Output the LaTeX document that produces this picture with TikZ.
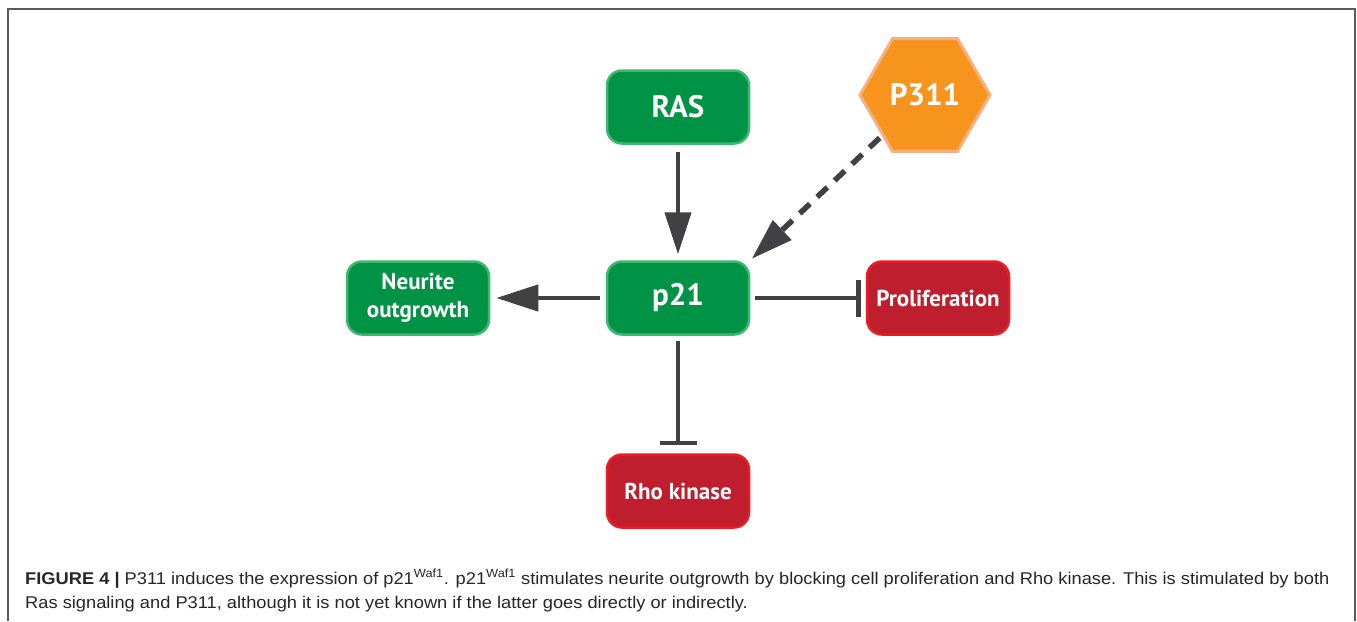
\documentclass[tikz,border=0pt]{standalone}
\usepackage{fontspec}
\setmainfont{Liberation Sans}[FakeStretch=1.075]
\newfontfamily\boxfont{PT Sans}
\usepackage{xcolor}
\usetikzlibrary{shapes,shapes.geometric,arrows,arrows.meta}
\definecolor{boxgreen}{RGB}{0,146,69}
\definecolor{edgegreen}{RGB}{62,184,112}
\definecolor{boxred}{RGB}{190,30,45}
\definecolor{edgered}{RGB}{237,28,36}
\definecolor{hexorange}{RGB}{247,148,29}
\definecolor{hexglow}{RGB}{246,176,128}
\definecolor{linkgray}{RGB}{65,64,66}
\definecolor{framegray}{RGB}{90,90,90}
\tikzset{
    greenbox/.style={draw=edgegreen, fill=boxgreen, line width=2.5pt, rounded corners=15pt, minimum width=142pt, minimum height=73pt, inner sep=0pt, text=white, align=center, font=\boxfont\bfseries\fontsize{23}{28}\selectfont},
    redbox/.style={greenbox, draw=edgered, fill=boxred},
    bigtext/.style={font=\boxfont\bfseries\fontsize{31}{33}\selectfont},
    hexa/.style={regular polygon, regular polygon sides=6, minimum size=130pt, inner sep=0pt, fill=hexorange, draw=hexglow, line width=3pt, text=white, bigtext},
    link/.style={draw=linkgray, line width=4.5pt},
    pointy/.tip={Triangle[length=42pt,width=26pt]},
    blunt/.tip={Bar[width=37pt]},
    caption/.style={anchor=base west, text=black!85, font=\fontsize{17}{20}\selectfont, inner sep=0pt}}
\begin{document}
\begin{tikzpicture}[x=1pt,y=-1pt]
\useasboundingbox (0,0) rectangle (1357,621);
\draw[framegray, line width=1.5pt] (8,621) -- (8,9) -- (1355,9) -- (1355,621);

\node[greenbox, bigtext] (ras) at (678,107) {RAS};
\node[greenbox, bigtext] (p21) at (678,298) {p21};
\node[greenbox] (neurite) at (418,298) {Neurite\\outgrowth};
\node[redbox] (prolif) at (938,298) {Proliferation};
\node[redbox] (rho) at (678,491) {Rho kinase};
\node[hexa] (p311) at (925,95) {P311};

\draw[link, -pointy, shorten <=7pt, shorten >=6pt] (ras) -- (p21);
\draw[link, line width=5.5pt, dash pattern=on 14pt off 10pt, -pointy, shorten <=3pt, shorten >=2pt] (p311) -- (p21.north east);
\draw[link, -pointy, shorten <=6pt, shorten >=6pt] (p21) -- (neurite);
\draw[link, -blunt, shorten <=5pt, shorten >=5pt] (p21) -- (prolif);
\draw[link, -blunt, shorten <=5pt, shorten >=8pt] (p21) -- (rho);

\node[caption] (cap1) at (25,584) {\textbf{FIGURE 4 |} P311 induces the expression of p21\textsuperscript{Waf1}. p21\textsuperscript{Waf1} stimulates neurite outgrowth by blocking cell proliferation and Rho kinase. This is stimulated by both};
\node[caption] (cap2) at (25,608) {Ras signaling and P311, although it is not yet known if the latter goes directly or indirectly.};
\end{tikzpicture}
\end{document}
